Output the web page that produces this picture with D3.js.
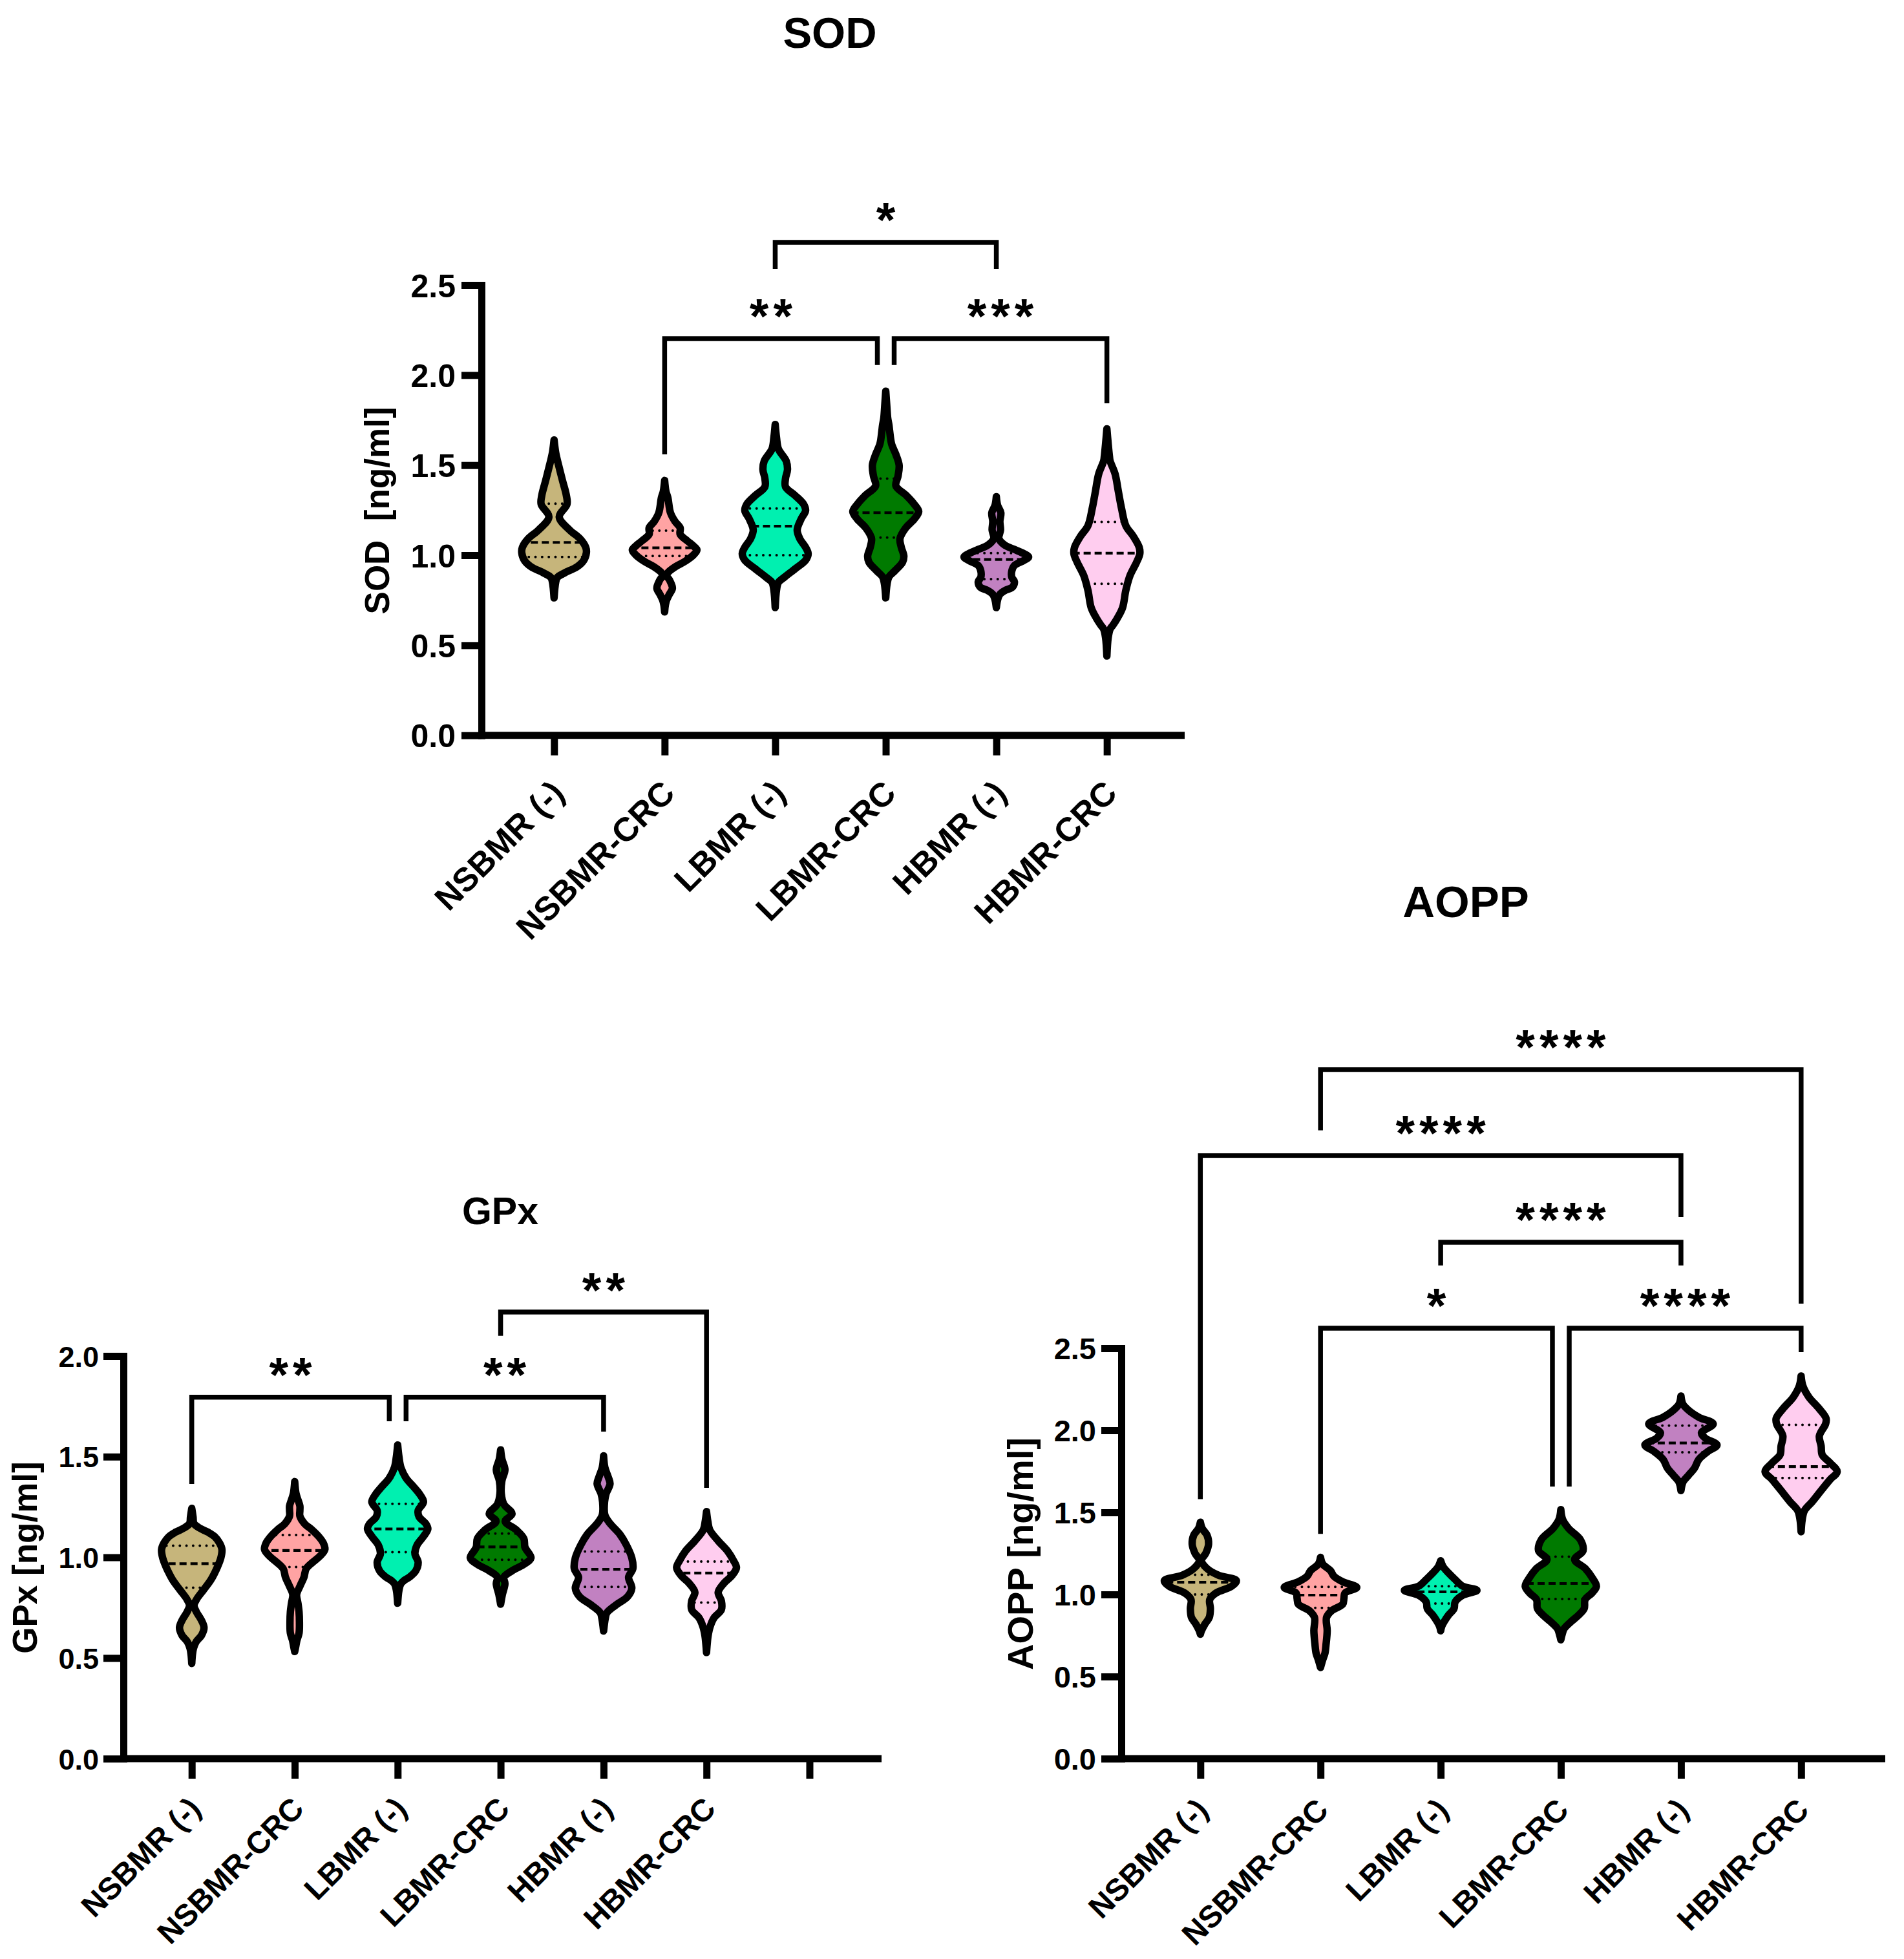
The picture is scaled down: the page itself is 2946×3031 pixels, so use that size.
<!DOCTYPE html>
<html><head><meta charset="utf-8">
<script src="https://cdn.jsdelivr.net/npm/d3@7"></script>
<style>
html,body{margin:0;padding:0;background:#fff;}
svg text{font-family:"Liberation Sans",Arial,Helvetica,sans-serif;font-weight:bold;fill:#000;}
</style>
</head><body>
<svg id="chart" width="2946" height="3031" xmlns="http://www.w3.org/2000/svg"></svg>
<script>
// ---------------- DATA ----------------
const categories = ["NSBMR (-)", "NSBMR-CRC", "LBMR (-)", "LBMR-CRC", "HBMR (-)", "HBMR-CRC"];
const groupColors = ["#C6B57B", "#FFA3A3", "#00F0B0", "#007A00", "#C181C1", "#FFCDEF"];

// violin outlines: [value, density] pairs per group
const sodShapes = [
 [[1.64,0],[1.57,2.5],[1.50,7],[1.415,13],[1.332,19],[1.283,20],[1.212,8],[1.14,24],[1.092,40],[1.044,49],[1.014,50],[0.972,46],[0.937,36],[0.901,16],[0.877,5],[0.85,2.5],[0.763,0]],
 [[1.415,0],[1.355,2],[1.319,5],[1.236,9],[1.188,16],[1.152,24],[1.116,24],[1.08,35],[1.05,45],[1.029,50],[1.003,45],[0.967,32],[0.937,17],[0.907,6],[0.889,3],[0.859,8],[0.817,12],[0.781,7],[0.745,2.5],[0.721,1],[0.685,0]],
 [[1.726,0],[1.654,2],[1.59,5],[1.523,17],[1.475,19],[1.427,16],[1.379,16],[1.331,31],[1.283,44],[1.248,47],[1.2,40],[1.14,34],[1.092,38],[1.044,47],[1.008,51],[0.972,47],[0.925,31],[0.877,14],[0.849,5],[0.805,2],[0.709,0]],
 [[1.911,0],[1.834,1.5],[1.762,3],[1.72,5],[1.69,6],[1.618,9],[1.559,15.7],[1.499,20.7],[1.439,19],[1.385,15.7],[1.331,32],[1.283,44],[1.242,51],[1.2,44],[1.152,31],[1.092,22],[1.044,24],[0.996,28],[0.961,26],[0.913,14],[0.88,5],[0.84,2],[0.763,0]],
 [[1.325,0],[1.277,2],[1.236,7],[1.188,5.5],[1.14,6.5],[1.092,4],[1.056,13],[1.032,28],[1.008,43],[0.99,50],[0.972,43],[0.943,28],[0.913,24],[0.877,24],[0.853,28],[0.823,25],[0.805,14],[0.785,6],[0.765,3],[0.745,1.5],[0.709,0]],
 [[1.702,0],[1.618,2],[1.547,4],[1.523,5],[1.451,12.7],[1.355,17.7],[1.259,22.7],[1.164,29.3],[1.104,41],[1.044,50],[1.008,51],[0.961,46],[0.889,36],[0.805,29.3],[0.709,24.3],[0.649,16],[0.61,9],[0.59,5],[0.542,2],[0.44,0]]
];
const sodMedian = [1.071, 1.041, 1.161, 1.236, 0.976, 1.011];
const sodQ3 = [1.286, 1.136, 1.259, 1.425, 1.012, 1.185];
const sodQ1 = [0.990, 0.996, 1.000, 1.098, 0.867, 0.841];
// [from, to, bar value, left leg end, right leg end, label, left shift, right shift]
const sodBrackets = [
 [2, 4, 2.737, 2.590, 2.590, "*", 0, 0],
 [1, 3, 2.202, 1.560, 2.056, "**", 0, -1],
 [3, 5, 2.202, 2.056, 1.843, "***", 1, 0]
];

const gpxShapes = [
 [[1.243,0],[1.2,2],[1.168,3.3],[1.146,11.7],[1.125,25],[1.104,35],[1.071,43],[1.039,46.7],[0.997,45],[0.954,40],[0.89,30],[0.837,18],[0.794,8],[0.762,3.5],[0.73,7],[0.687,15],[0.65,19],[0.612,15],[0.58,6.7],[0.548,2.7],[0.516,1],[0.473,0]],
 [[1.376,0],[1.317,2],[1.286,5],[1.255,8],[1.232,8],[1.205,8],[1.168,15],[1.136,27],[1.104,37],[1.071,44.3],[1.039,46.7],[1.007,39.3],[0.975,27.7],[0.943,17.7],[0.901,14.3],[0.858,8.3],[0.815,3],[0.772,5],[0.73,6.7],[0.676,7.3],[0.623,6.7],[0.586,3.3],[0.559,1.7],[0.532,0]],
 [[1.558,0],[1.499,2],[1.446,5],[1.392,13.3],[1.349,25],[1.317,33.3],[1.275,40],[1.232,31.7],[1.2,33.3],[1.168,43.3],[1.141,46.7],[1.104,40],[1.061,30],[1.018,26.7],[0.975,31.7],[0.933,28],[0.901,18],[0.885,10],[0.869,5],[0.837,2],[0.772,0]],
 [[1.534,0],[1.488,2],[1.435,6.7],[1.381,2],[1.317,1],[1.264,5],[1.216,17.7],[1.179,7],[1.136,24.3],[1.093,36],[1.05,37.7],[0.997,47],[0.965,36],[0.933,17.7],[0.901,5],[0.869,6.7],[0.815,2.7],[0.767,0]],
 [[1.504,0],[1.446,2],[1.403,6.7],[1.365,10],[1.317,4],[1.275,1.5],[1.21,2],[1.168,10],[1.114,25.3],[1.061,35.3],[0.997,43.7],[0.943,45.3],[0.901,38.7],[0.847,43.7],[0.804,37],[0.762,18.7],[0.724,5],[0.698,2.7],[0.634,0]],
 [[1.227,0],[1.179,2],[1.136,5],[1.082,18],[1.029,33],[0.986,41.3],[0.949,46.3],[0.911,39.7],[0.869,26.3],[0.826,18],[0.783,23],[0.74,23],[0.698,11.3],[0.655,5.5],[0.612,2.5],[0.569,1],[0.527,0]]
];
const gpxMedian = [0.968, 1.034, 1.141, 1.052, 0.940, 0.922];
const gpxQ3 = [1.058, 1.111, 1.266, 1.118, 1.029, 0.979];
const gpxQ1 = [0.849, 0.952, 1.026, 0.988, 0.853, 0.775];
const gpxBrackets = [
 [3, 5, 2.218, 2.100, 1.345, "**", 0, 0],
 [0, 2, 1.795, 1.364, 1.676, "**", 0, -1],
 [2, 4, 1.795, 1.676, 1.624, "**", 1, 0]
];

const aoppShapes = [
 [[1.44,0],[1.402,2.8],[1.361,10.3],[1.307,12.7],[1.253,8.6],[1.206,1.7],[1.158,10.3],[1.118,27.5],[1.084,55.8],[1.05,48.2],[1.009,24.1],[0.969,14.5],[0.914,15.5],[0.86,13.8],[0.819,6.9],[0.779,1.7],[0.758,0]],
 [[1.226,0],[1.185,3.4],[1.145,15.5],[1.111,20.7],[1.077,34.4],[1.043,56.1],[1.009,37.9],[0.975,36.2],[0.941,34.4],[0.901,17.2],[0.86,9.3],[0.779,10.3],[0.697,8.6],[0.643,6.9],[0.602,3.4],[0.555,0]],
 [[1.206,0],[1.172,3.4],[1.131,12.1],[1.091,22.4],[1.05,34.4],[1.025,56.1],[0.996,34.4],[0.955,22.4],[0.914,20.7],[0.874,12.1],[0.833,5.2],[0.806,1.7],[0.779,0]],
 [[1.517,0],[1.457,2.8],[1.402,12.1],[1.335,30],[1.267,34.4],[1.213,21.4],[1.158,37.9],[1.104,48.2],[1.05,55.1],[1.009,48.2],[0.969,37.6],[0.914,36.2],[0.874,27.5],[0.833,15.5],[0.792,5.2],[0.752,1.7],[0.724,0]],
 [[2.209,0],[2.161,2.8],[2.121,12.1],[2.08,27.5],[2.039,49.9],[1.985,31.7],[1.951,38],[1.911,55.8],[1.87,41.3],[1.822,27.5],[1.768,20.7],[1.728,12.1],[1.687,3.4],[1.633,0]],
 [[2.331,0],[2.27,2.8],[2.202,12.1],[2.134,27.5],[2.073,38.6],[2.039,37.9],[1.965,28.2],[1.904,31],[1.85,32.7],[1.802,44.8],[1.748,55.8],[1.7,44.8],[1.633,31],[1.565,17.2],[1.511,5.2],[1.457,1.7],[1.382,0]]
];
const aoppMedian = [1.074, 0.996, 1.016, 1.067, 1.923, 1.779];
const aoppQ3 = [1.120, 1.046, 1.050, 1.230, 2.029, 2.033];
const aoppQ1 = [1.000, 0.918, 0.945, 0.972, 1.866, 1.710];
const aoppBrackets = [
 [1, 5, 4.197, 3.827, 2.772, "****", 0, 0],
 [0, 4, 3.673, 1.581, 3.299, "****", 0, 0],
 [2, 4, 3.146, 3.004, 3.004, "****", 0, 0],
 [1, 3, 2.622, 1.369, 1.657, "*", 0, -1],
 [3, 5, 2.622, 1.657, 2.476, "****", 1, 0]
];

// ---------------- LAYOUT ----------------
const panels = [
 {name:"sod", title:"SOD", yTitle:"SOD\u00a0 [ng/ml]", shapes:sodShapes, med:sodMedian, q1:sodQ1, q3:sodQ3, brackets:sodBrackets,
  yMax:2.5, x0:745, x1:1833, yBottom:1137.7, yTop:441, c0:857.3, step:171.07, extraSlot:false,
  titleX:1284, titleY:74, titleFont:67, yTitleX:583, yTitleY:790, yTitleFont:53,
  yFont:50, yPad:9, xFont:52, lblDx:5, lblDy:79},
 {name:"gpx", title:"GPx", yTitle:"GPx [ng/ml]", shapes:gpxShapes, med:gpxMedian, q1:gpxQ1, q3:gpxQ3, brackets:gpxBrackets,
  yMax:2.0, x0:191, x1:1364, yBottom:2721, yTop:2098, c0:296.7, step:159.3, extraSlot:true,
  titleX:774, titleY:1894, titleFont:59, yTitleX:38, yTitleY:2410, yTitleFont:53,
  yFont:45, yPad:7, xFont:48, lblDx:4, lblDy:68},
 {name:"aopp", title:"AOPP", yTitle:"AOPP [ng/ml]", shapes:aoppShapes, med:aoppMedian, q1:aoppQ1, q3:aoppQ3, brackets:aoppBrackets,
  yMax:2.5, x0:1735, x1:2917, yBottom:2721, yTop:2086, c0:1857.3, step:185.9, extraSlot:false,
  titleX:2268, titleY:1419, titleFont:69, yTitleX:1578, yTitleY:2404, yTitleFont:56,
  yFont:47, yPad:8, xFont:48, lblDx:2, lblDy:70}
];

const svg = d3.select("#chart");
const FONT = '"Liberation Sans", Arial, Helvetica, sans-serif';

function drawPanel(cfg) {
  const g = svg.append("g").attr("class", "panel-" + cfg.name);
  const cats = cfg.extraSlot ? categories.concat([" "]) : categories.slice();
  const x = d3.scalePoint().domain(cats).range([cfg.c0, cfg.c0 + cfg.step * (cats.length - 1)]);
  const y = d3.scaleLinear().domain([0, cfg.yMax]).range([cfg.yBottom, cfg.yTop]);
  const w = d3.scaleLinear().domain([0, 50]).range([0, 50]);

  // violins
  cfg.shapes.forEach((pts, i) => {
    const cx = x(categories[i]);
    const area = d3.area()
      .y(d => y(d[0]))
      .x0(d => cx - w(d[1]))
      .x1(d => cx + w(d[1]))
      .curve(d3.curveCatmullRom.alpha(0.5));
    const dPath = area(pts);
    const id = "clip-" + cfg.name + "-" + i;
    g.append("clipPath").attr("id", id).append("path").attr("d", dPath);
    g.append("path").attr("d", dPath).attr("fill", groupColors[i]).attr("stroke", "none");
    const inner = g.append("g").attr("clip-path", "url(#" + id + ")");
    const span = w(70);
    inner.append("line")
      .attr("x1", cx - span).attr("x2", cx + span)
      .attr("y1", y(cfg.med[i])).attr("y2", y(cfg.med[i]))
      .attr("stroke", "#000").attr("stroke-width", 4.2).attr("stroke-dasharray", "11 6");
    [cfg.q1[i], cfg.q3[i]].forEach(q => {
      inner.append("line")
        .attr("x1", cx - span).attr("x2", cx + span)
        .attr("y1", y(q)).attr("y2", y(q))
        .attr("stroke", "#000").attr("stroke-width", 4)
        .attr("stroke-linecap", "round").attr("stroke-dasharray", "0.01 10.3");
    });
    g.append("path").attr("d", dPath).attr("fill", "none")
      .attr("stroke", "#000").attr("stroke-width", 11.5).attr("stroke-linejoin", "round");
  });

  // y axis
  const yAxis = d3.axisLeft(y)
    .tickValues(d3.range(0, cfg.yMax + 0.001, 0.5))
    .tickFormat(d3.format(".1f"))
    .tickSize(31).tickSizeOuter(0).tickPadding(cfg.yPad);
  const ya = g.append("g").attr("transform", "translate(" + cfg.x0 + ",0)").call(yAxis)
    .attr("font-family", FONT).attr("font-size", cfg.yFont);
  ya.select(".domain").attr("stroke", "#000").attr("stroke-width", 11).attr("stroke-linecap", "square");
  ya.selectAll(".tick line").attr("stroke", "#000").attr("stroke-width", 11);
  ya.selectAll(".tick text").attr("fill", "#000").attr("font-weight", "bold").attr("dy", "0.36em");

  // x axis
  const xAxis = d3.axisBottom(x).tickSize(31).tickSizeOuter(0);
  const xa = g.append("g").attr("transform", "translate(0," + cfg.yBottom + ")").call(xAxis)
    .attr("font-family", FONT).attr("font-size", cfg.xFont);
  xa.select(".domain").remove();
  xa.append("line").attr("x1", cfg.x0).attr("x2", cfg.x1).attr("y1", 0).attr("y2", 0)
    .attr("stroke", "#000").attr("stroke-width", 11);
  xa.selectAll(".tick line").attr("stroke", "#000").attr("stroke-width", 11);
  xa.selectAll(".tick text")
    .attr("y", null).attr("x", null).attr("dy", "0.36em")
    .attr("text-anchor", "end").attr("fill", "#000").attr("font-weight", "bold")
    .attr("transform", "translate(" + cfg.lblDx + "," + cfg.lblDy + ") rotate(-45)");

  // brackets
  const starFont = 76, starGap = 7;
  cfg.brackets.forEach(b => {
    const xl = x(categories[b[0]]) + b[6] * 13;
    const xr = x(categories[b[1]]) + b[7] * 13;
    const yb = y(b[2]);
    g.append("path")
      .attr("d", "M" + xl + "," + y(b[3]) + "V" + yb + "H" + xr + "V" + y(b[4]))
      .attr("fill", "none").attr("stroke", "#000").attr("stroke-width", 7.5);
    g.append("text")
      .attr("x", (xl + xr) / 2 + starGap / 2).attr("y", yb - 42 + 0.44 * starFont)
      .attr("text-anchor", "middle").attr("font-size", starFont)
      .attr("font-weight", "normal").attr("letter-spacing", starGap)
      .text(b[5]);
  });

  // titles
  g.append("text").attr("x", cfg.titleX).attr("y", cfg.titleY)
    .attr("text-anchor", "middle").attr("font-size", cfg.titleFont).text(cfg.title);
  g.append("text")
    .attr("transform", "translate(" + cfg.yTitleX + "," + cfg.yTitleY + ") rotate(-90)")
    .attr("text-anchor", "middle").attr("dy", "0.36em")
    .attr("font-size", cfg.yTitleFont).text(cfg.yTitle);
}

panels.forEach(drawPanel);
</script>
</body></html>
